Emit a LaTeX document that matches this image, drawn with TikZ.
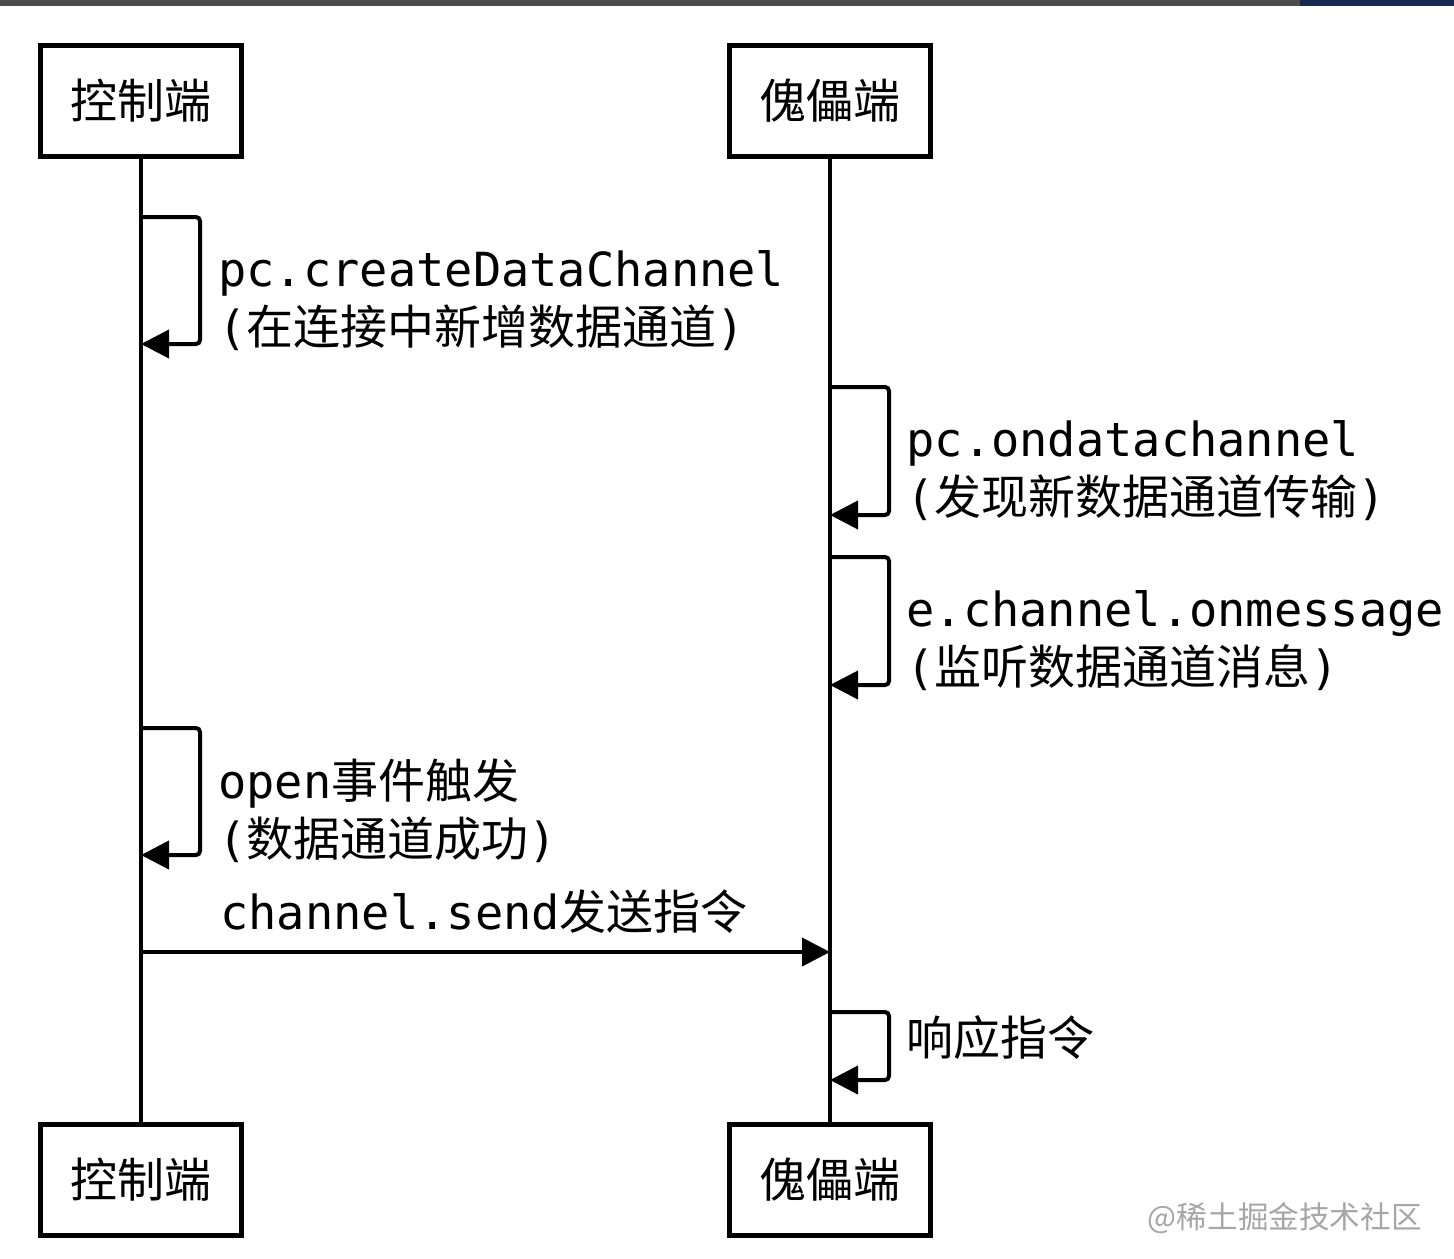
\documentclass[tikz,border=0pt]{standalone}
\usepackage{fontspec}
\setmainfont{DejaVu Sans Mono}
\newfontfamily\cjk{Noto Sans CJK SC}
\usetikzlibrary{arrows.meta}
\definecolor{topnavy}{RGB}{24,42,80}
\begin{document}
\begin{tikzpicture}[x=0.5pt,y=-0.5pt,
  actor/.style={draw, line width=2.5pt, minimum width=100.5pt, minimum height=55.5pt, inner sep=0pt, font=\cjk\fontsize{23.5}{28}\selectfont},
  life/.style={line width=2pt},
  selfloop/.style={line width=2pt, rounded corners=2pt, -{Triangle[length=14pt,width=14pt]}},
  msg/.style={line width=2pt, -{Triangle[length=14pt,width=14pt]}},
  lbl/.style={anchor=west, align=left, inner sep=0pt, font=\fontsize{23.5}{29}\selectfont},
  wm/.style={anchor=east, inner sep=0pt, text=black!35, font=\cjk\fontsize{15.3}{17}\selectfont},
]
\useasboundingbox (0,0) rectangle (1454,1258);
\fill[black!70] (0,0) rectangle (1454,6);
\fill[topnavy] (1300,0) rectangle (1454,6);

\node[actor] (ctlTop) at (141,101) {控制端};
\node[actor] (pupTop) at (830,101) {傀儡端};
\node[actor] (ctlBot) at (141,1180) {控制端};
\node[actor] (pupBot) at (830,1180) {傀儡端};

\draw[life] (ctlTop.south) -- (ctlBot.north);
\draw[life] (pupTop.south) -- (pupBot.north);

% self loops on control side
\coordinate (c1s) at (141,217); \coordinate (c1e) at (141,344);
\draw[selfloop] (c1s) -- ++(59,0) |- (c1e);
\node[lbl] (t1) at (218,301) {pc.createDataChannel\\({\cjk 在连接中新增数据通道})};

\coordinate (c2s) at (141,728); \coordinate (c2e) at (141,855);
\draw[selfloop] (c2s) -- ++(59,0) |- (c2e);
\node[lbl] (t4) at (218,811) {open{\cjk 事件触发}\\({\cjk 数据通道成功})};

% self loops on puppet side
\coordinate (p1s) at (830,387); \coordinate (p1e) at (830,515);
\draw[selfloop] (p1s) -- ++(59,0) |- (p1e);
\node[lbl] (t2) at (906,471) {pc.ondatachannel\\({\cjk 发现新数据通道传输})};

\coordinate (p2s) at (830,557); \coordinate (p2e) at (830,685);
\draw[selfloop] (p2s) -- ++(59,0) |- (p2e);
\node[lbl] (t3) at (906,641) {e.channel.onmessage\\({\cjk 监听数据通道消息})};

\coordinate (p3s) at (830,1012); \coordinate (p3e) at (830,1080);
\draw[selfloop] (p3s) -- ++(59,0) |- (p3e);
\node[lbl] (t6) at (906,1038) {{\cjk 响应指令}};

% message
\coordinate (ms) at (141,952); \coordinate (me) at (830,952);
\draw[msg] (ms) -- (me);
\node[lbl] (t5) at (220,912) {channel.send{\cjk 发送指令}};

\node[wm] (wmark) at (1422,1218) {@稀土掘金技术社区};
\end{tikzpicture}
\end{document}
